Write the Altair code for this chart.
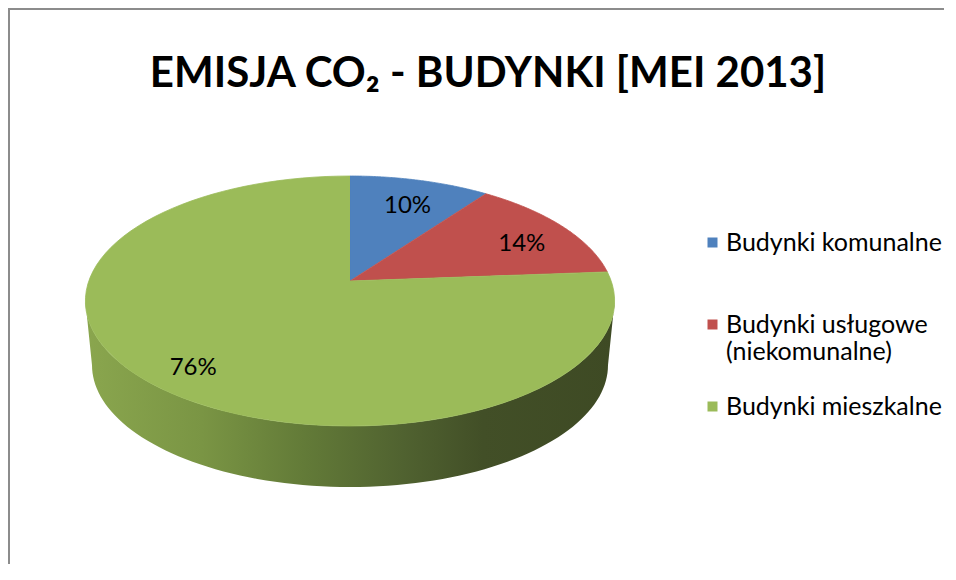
import math
import altair as alt
import pandas as pd

# ---- data ----
categories = ["Budynki komunalne", "Budynki usługowe (niekomunalne)", "Budynki mieszkalne"]
shares = [10.0, 13.8, 76.2]
colors = ["#4f81bd", "#c0504d", "#9bbb59"]
slice_order = [0, 1, 2]
title_text = "EMISJA CO₂ - BUDYNKI [MEI 2013]"

df = pd.DataFrame({"category": categories, "share": shares, "idx": slice_order})

# ---- geometry / layout (style) ----
W, H = 936, 556
CX, CY = 342, 273          # pie apex inside the canvas
PX = 261.2                 # pixels per pie radius unit
K = 0.16                   # perspective factor
T = 121.8 / 261.2          # tilt (vertical squash)
S_BOTTOM = 0.975           # bottom face scale
DEPTH = 0.2476             # pie thickness in radius units
N = 90
LABEL_R = 0.8
TH_L = math.acos(-K)
TH_R = 2 * math.pi - TH_L

xs = alt.Scale(domain=[-CX / PX, (W - CX) / PX], nice=False, zero=False)
ys = alt.Scale(domain=[(CY - H) / PX, CY / PX], nice=False, zero=False)

base = (
    alt.Chart(df)
    .transform_joinaggregate(total="sum(share)")
    .transform_window(cum="sum(share)", sort=[alt.SortField("idx")], frame=[None, 0])
    .transform_calculate(
        a0="2*PI*(datum.cum - datum.share)/datum.total",
        a1="2*PI*datum.cum/datum.total",
    )
)

color_scale = alt.Scale(domain=categories, range=colors)

# top face wedges
top = (
    base.transform_calculate(s=f"sequence(0, {N + 2})")
    .transform_flatten(["s"])
    .transform_calculate(
        ang=f"datum.a0 + (datum.a1 - datum.a0) * (datum.s - 1) / {N}",
        X="datum.s == 0 ? 0 : sin(datum.ang)",
        Z="datum.s == 0 ? 0 : cos(datum.ang)",
        u=f"datum.X / (1 + {K} * datum.Z)",
        v=f"{T} * datum.Z / (1 + {K} * datum.Z)",
    )
    .mark_line(filled=True, strokeWidth=0.8)
    .encode(
        x=alt.X("u:Q", scale=xs, axis=None),
        y=alt.Y("v:Q", scale=ys, axis=None),
        color=alt.Color(
            "category:N",
            scale=color_scale,
            legend=alt.Legend(
                title=None,
                orient="none",
                legendX=692,
                legendY=222,
                symbolType="square",
                symbolSize=100,
                symbolStrokeWidth=0,
                labelFont="Lato",
                labelFontSize=25,
                labelColor="#000000",
                labelLimit=400,
                labelOffset=1,
                labelExpr="split(replace(datum.label, ' (', '|('), '|')",
                gridAlign="all",
                rowPadding=29,
                padding=0,
            ),
        ),
        stroke=alt.Stroke("category:N", scale=color_scale, legend=None),
        detail="category:N",
        order="s:Q",
    )
)

# front side (thickness)
side_fill = alt.Gradient(
    gradient="linear",
    stops=[
        alt.GradientStop(color="#8aa64e", offset=0.0),
        alt.GradientStop(color="#7a9544", offset=0.22),
        alt.GradientStop(color="#637b38", offset=0.41),
        alt.GradientStop(color="#506230", offset=0.6),
        alt.GradientStop(color="#424f27", offset=0.75),
        alt.GradientStop(color="#3e4a24", offset=1.0),
    ],
    x1=0, x2=1, y1=0, y2=0,
)

side = (
    base.transform_calculate(
        b0=f"max(datum.a0, {TH_L})",
        b1=f"min(datum.a1, {TH_R})",
    )
    .transform_filter("datum.b1 > datum.b0")
    .transform_calculate(s=f"sequence(0, {2 * (N + 1)})")
    .transform_flatten(["s"])
    .transform_calculate(
        bot=f"datum.s > {N}",
        t=f"datum.s <= {N} ? datum.s / {N} : ({2 * N + 1} - datum.s) / {N}",
        ang="datum.b0 + (datum.b1 - datum.b0) * datum.t",
        X="sin(datum.ang)",
        Z="cos(datum.ang)",
        u0=f"datum.X / (1 + {K} * datum.Z)",
        v0=f"{T} * datum.Z / (1 + {K} * datum.Z)",
        u=f"datum.bot ? {S_BOTTOM} * datum.u0 : datum.u0",
        v=f"datum.bot ? {S_BOTTOM} * datum.v0 - {DEPTH} : datum.v0",
    )
    .mark_line(filled=True, fill=side_fill, strokeWidth=0)
    .encode(
        x=alt.X("u:Q", scale=xs, axis=None),
        y=alt.Y("v:Q", scale=ys, axis=None),
        detail="category:N",
        order="s:Q",
    )
)

# percentage labels
labels = (
    base.transform_calculate(
        m="(datum.a0 + datum.a1) / 2",
        X=f"{LABEL_R} * sin(datum.m)",
        Z=f"{LABEL_R} * cos(datum.m)",
        u=f"datum.X / (1 + {K} * datum.Z)",
        v=f"{T} * datum.Z / (1 + {K} * datum.Z)",
        pct="format(datum.share / datum.total, '.0%')",
    )
    .mark_text(font="Lato", fontSize=24, color="#000000", dy=8)
    .encode(
        x=alt.X("u:Q", scale=xs, axis=None),
        y=alt.Y("v:Q", scale=ys, axis=None),
        text="pct:N",
    )
)

title = (
    alt.Chart(pd.DataFrame({"t": [title_text]}))
    .mark_text(font="Lato", fontWeight="bold", fontSize=42, baseline="alphabetic", color="#000000")
    .encode(x=alt.value(480), y=alt.value(79), text="t:N")
)

# chart frame: only the left and top edges fall inside the canvas
frame = (
    alt.Chart(pd.DataFrame({"k": [0]}))
    .mark_rect(fill="transparent", stroke="#8c8c8c", strokeWidth=2)
    .encode(x=alt.value(1), x2=alt.value(W + 60), y=alt.value(1), y2=alt.value(H + 60))
)

chart = (
    alt.layer(frame, side, top, labels, title)
    .properties(width=W, height=H, autosize="none", padding=0, background="white")
    .configure_view(strokeWidth=0)
)

chart.save("out.html", embed_options={"renderer": "svg", "actions": False})
